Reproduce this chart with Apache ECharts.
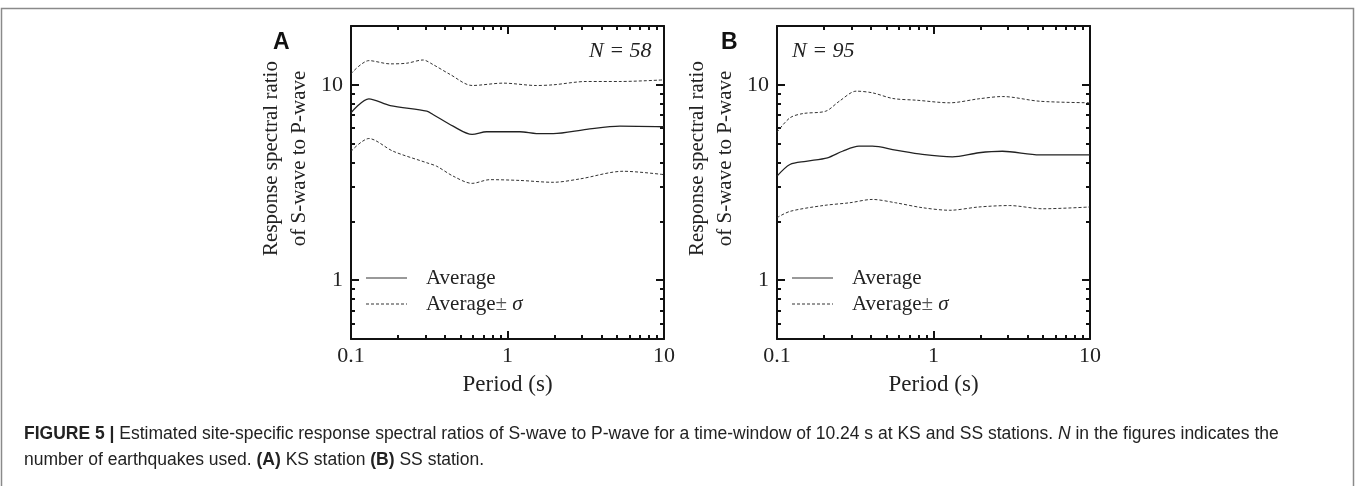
<!DOCTYPE html>
<html>
<head>
    <meta charset="utf-8">
    <script type="text/javascript" src="https://cdn.jsdelivr.net/npm/echarts@6/dist/echarts.min.js"></script>
    <title>Response spectral ratio S/P</title>
</head>
<body style="margin:0;background:#fff;">
    <div id="container" style="width:1355px;height:486px;"></div>
    <script type="text/javascript">
    // data: [period (s), ratio]
    var avgA = [[0.1, 7.19], [0.13, 8.48], [0.178, 7.83], [0.305, 7.33], [0.334, 7.05], [0.449, 6.14],
        [0.594, 5.57], [0.736, 5.75], [1.2, 5.75], [1.53, 5.63], [1.96, 5.62], [3.2, 5.91], [5.23, 6.14], [10, 6.1]];
    var upA = [[0.1, 11.4], [0.13, 13.3], [0.178, 12.8], [0.227, 12.9], [0.289, 13.4], [0.334, 12.7], [0.43, 11.3],
        [0.594, 9.92], [0.94, 10.2], [1.53, 9.92], [1.96, 10.0], [3.2, 10.4], [5.23, 10.4], [10, 10.6]];
    var lowA = [[0.1, 4.57], [0.13, 5.31], [0.186, 4.57], [0.305, 3.99], [0.353, 3.83], [0.449, 3.41], [0.594, 3.13],
        [0.77, 3.27], [1.2, 3.24], [1.96, 3.17], [2.91, 3.3], [5.49, 3.61], [10, 3.47]];

    var avgB = [[0.1, 3.41], [0.121, 3.91], [0.153, 4.06], [0.21, 4.23], [0.262, 4.57], [0.334, 4.85], [0.407, 4.85],
        [0.573, 4.63], [0.849, 4.4], [1.32, 4.28], [1.95, 4.49], [2.76, 4.57], [4.77, 4.38], [10, 4.38]];
    var upB = [[0.1, 5.72], [0.121, 6.78], [0.147, 7.13], [0.205, 7.33], [0.25, 8.24], [0.321, 9.28], [0.407, 9.1],
        [0.551, 8.51], [0.78, 8.34], [1.27, 8.09], [1.95, 8.48], [2.76, 8.71], [4.77, 8.24], [10, 8.09]];
    var lowB = [[0.1, 2.09], [0.121, 2.25], [0.197, 2.41], [0.291, 2.49], [0.407, 2.59], [0.573, 2.49], [0.849, 2.35],
        [1.27, 2.28], [1.95, 2.37], [3.05, 2.41], [5.0, 2.32], [10, 2.37]];

    // ticks and labels
    var xMajor = [0.1, 1, 10];
    var xMinor = [0.2, 0.3, 0.4, 0.5, 0.6, 0.7, 0.8, 0.9, 2, 3, 4, 5, 6, 7, 8, 9];
    var yMajor = [1, 10];
    var yMinor = [0.6, 0.7, 0.8, 0.9, 2, 3, 4, 5, 6, 7, 8, 9];
    var xLabels = [0.1, 1, 10];
    var yLabels = [1, 10];
    var counts = ['N = 58', 'N = 95'];

    var myChart = echarts.init(document.getElementById('container'));

    var serif = 'Liberation Serif';
    var ink = '#222';
    var fmt = function (v) { return String(parseFloat(Number(v).toPrecision(3))); };

    // one log axis; major/minor and the mirrored sides are separate axes on the same grid
    function xAx(grid, pos, ticks, len, labels) {
        return {
            type: 'log', logBase: 10, min: 0.1, max: 10, gridIndex: grid, position: pos,
            axisLine: { show: len > 5, lineStyle: { color: '#111', width: 2 } },
            axisTick: { show: true, inside: true, length: len, customValues: ticks, lineStyle: { color: '#111', width: 2 } },
            axisLabel: labels ? { show: true, customValues: labels, formatter: fmt, margin: 6,
                fontFamily: serif, fontSize: 22, color: ink } : { show: false },
            splitLine: { show: false },
            name: labels ? 'Period (s)' : '', nameLocation: 'middle', nameGap: 34,
            nameTextStyle: { fontFamily: serif, fontSize: 23, color: ink }
        };
    }
    function yAx(grid, pos, ticks, len, labels) {
        return {
            type: 'log', logBase: 10, min: 0.5, max: 20, gridIndex: grid, position: pos,
            axisLine: { show: len > 5, lineStyle: { color: '#111', width: 2 } },
            axisTick: { show: true, inside: true, length: len, customValues: ticks, lineStyle: { color: '#111', width: 2 } },
            axisLabel: labels ? { show: true, customValues: labels, formatter: fmt, margin: 8,
                fontFamily: serif, fontSize: 22, color: ink } : { show: false },
            splitLine: { show: false },
            name: labels ? 'Response spectral ratio\nof S-wave to P-wave' : '',
            nameLocation: 'middle', nameGap: 38, nameRotate: 90,
            nameTextStyle: { fontFamily: serif, fontSize: 21, lineHeight: 28, color: ink, padding: [0, 0, 0, 48] }
        };
    }

    var xAxes = [], yAxes = [];
    [0, 1].forEach(function (g) {
        xAxes.push(xAx(g, 'bottom', xMajor, 8, xLabels), xAx(g, 'bottom', xMinor, 4), xAx(g, 'top', xMajor, 8), xAx(g, 'top', xMinor, 4));
        yAxes.push(yAx(g, 'left', yMajor, 8, yLabels), yAx(g, 'left', yMinor, 4), yAx(g, 'right', yMajor, 8), yAx(g, 'right', yMinor, 4));
    });

    var solid = { color: '#222', width: 1.3, type: 'solid' };
    var dashed = { color: '#333', width: 1, type: [3, 2] };
    function line(name, data, g, style) {
        return {
            name: name, type: 'line', data: data, xAxisIndex: g * 4, yAxisIndex: g * 4,
            symbol: 'none', smooth: 0.3, lineStyle: style, itemStyle: { color: style.color },
            emphasis: { disabled: true }, silent: true, animation: false
        };
    }

    function legend(left) {
        return {
            orient: 'vertical', left: left, top: 262, itemWidth: 41, itemHeight: 12, itemGap: 4,
            data: ['Average', 'Average ± σ'], selectedMode: false,
            itemStyle: { opacity: 0 },
            lineStyle: { color: '#999' },
            formatter: function (name) {
                return name === 'Average' ? '{g|}Average' : '{g|}Average{pm|±} {i|σ}';
            },
            textStyle: {
                fontFamily: serif, fontSize: 21, lineHeight: 22, color: ink,
                rich: {
                    g: { width: 14 },
                    pm: { fontFamily: serif, fontSize: 21, color: '#555' },
                    i: { fontFamily: serif, fontSize: 21, fontStyle: 'italic', color: ink }
                }
            }
        };
    }

    var capFont = 'Liberation Sans';
    var capSize = 17.5;

    var option = {
        backgroundColor: '#fff',
        animation: false,
        grid: [
            { left: 351, top: 26, width: 313, height: 313 },
            { left: 777, top: 26, width: 313, height: 313 }
        ],
        xAxis: xAxes,
        yAxis: yAxes,
        legend: [legend(360), legend(786)],
        series: [
            line('Average', avgA, 0, solid),
            line('Average ± σ', upA, 0, dashed),
            line('Average ± σ', lowA, 0, dashed),
            line('Average', avgB, 1, solid),
            line('Average ± σ', upB, 1, dashed),
            line('Average ± σ', lowB, 1, dashed)
        ],
        graphic: [
            { type: 'rect', shape: { x: 1.5, y: 8.5, width: 1352, height: 520 },
              style: { fill: 'none', stroke: '#8a8a8a', lineWidth: 1.5 }, silent: true },
            { type: 'text', left: 273, top: 31, style: { text: 'A', fontFamily: 'Liberation Sans', fontWeight: 'bold', fontSize: 23, fill: '#111' } },
            { type: 'text', left: 721, top: 31, style: { text: 'B', fontFamily: 'Liberation Sans', fontWeight: 'bold', fontSize: 23, fill: '#111' } },
            { type: 'text', left: 589, top: 40, style: { text: counts[0], fontFamily: serif, fontStyle: 'italic', fontSize: 22, fill: ink } },
            { type: 'text', left: 792, top: 40, style: { text: counts[1], fontFamily: serif, fontStyle: 'italic', fontSize: 22, fill: ink } },
            { type: 'text', left: 24, top: 425, style: {
                text: '{b|FIGURE 5} {b||} Estimated site-specific response spectral ratios of S-wave to P-wave for a time-window of 10.24 s at KS and SS stations. {i|N} in the figures indicates the',
                fontFamily: capFont, fontSize: capSize, fill: '#222',
                rich: { b: { fontWeight: 'bold', fontFamily: capFont, fontSize: capSize },
                        i: { fontStyle: 'italic', fontFamily: capFont, fontSize: capSize } }
            } },
            { type: 'text', left: 24, top: 451, style: {
                text: 'number of earthquakes used. {b|(A)} KS station {b|(B)} SS station.',
                fontFamily: capFont, fontSize: capSize, fill: '#222',
                rich: { b: { fontWeight: 'bold', fontFamily: capFont, fontSize: capSize } }
            } }
        ]
    };

    myChart.setOption(option);
    </script>
</body>
</html>
